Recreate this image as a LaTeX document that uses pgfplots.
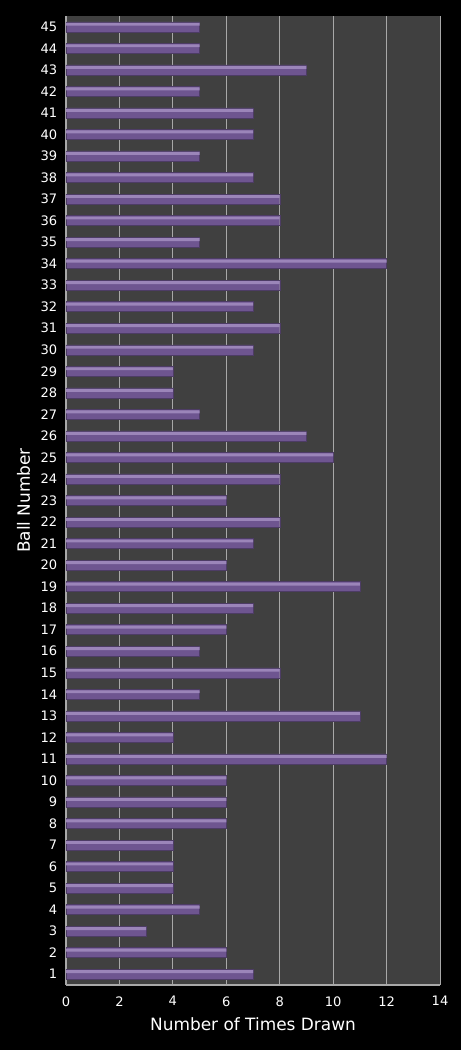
\documentclass[border=0pt]{standalone}
\usepackage{pgfplots}
\pgfplotsset{compat=1.18}
\usepackage{fontspec}
\setmainfont{DejaVu Sans}
\definecolor{plotbg}{HTML}{404040}
\definecolor{barmain}{HTML}{6E5590}
\definecolor{barlight}{HTML}{9B85B9}
\definecolor{gridc}{HTML}{A8A8A8}
\begin{document}
\begin{tikzpicture}
\fill[black] (0,0) rectangle (345.75pt,787.5pt);
\begin{axis}[
  at={(49.5pt,48.75pt)}, anchor=south west,
  scale only axis, width=280.5pt, height=726.75pt,
  xmin=0, xmax=14, xtick={0,2,...,14},
  ymin=0.5, ymax=45.5, ytick={1,...,45},
  axis background/.style={fill=plotbg},
  xmajorgrids, grid style={gridc, line width=0.6pt},
  axis x line*=bottom, axis y line*=left,
  axis line style={gridc, line width=0.8pt, -},
  major tick length=0pt,
  tick label style={white, font=\fontsize{9.8}{11}\selectfont},
  /pgf/number format/assume math mode=true,
  xticklabel style={yshift=-5pt},
  yticklabel style={xshift=-3pt},
  xlabel={Number of Times Drawn}, ylabel={Ball Number},
  label style={white, font=\fontsize{12.7}{15}\selectfont},
  xlabel style={yshift=-2pt},
  ylabel style={yshift=1pt},
  xbar, bar width=7.5pt,
  clip=false,
]
\addplot[fill=barmain, draw=barmain!70!black, line width=0.3pt, bar shift=0pt] coordinates {
(7,1) (6,2) (3,3) (5,4) (4,5) (4,6) (4,7) (6,8) (6,9) (6,10)
(12,11) (4,12) (11,13) (5,14) (8,15) (5,16) (6,17) (7,18) (11,19) (6,20)
(7,21) (8,22) (6,23) (8,24) (10,25) (9,26) (5,27) (4,28) (4,29) (7,30)
(8,31) (7,32) (8,33) (12,34) (5,35) (8,36) (8,37) (7,38) (5,39) (7,40)
(7,41) (5,42) (9,43) (5,44) (5,45)};
\addplot[fill=barlight, draw=none, bar width=2.2pt, bar shift=1.9pt] coordinates {
(7,1) (6,2) (3,3) (5,4) (4,5) (4,6) (4,7) (6,8) (6,9) (6,10)
(12,11) (4,12) (11,13) (5,14) (8,15) (5,16) (6,17) (7,18) (11,19) (6,20)
(7,21) (8,22) (6,23) (8,24) (10,25) (9,26) (5,27) (4,28) (4,29) (7,30)
(8,31) (7,32) (8,33) (12,34) (5,35) (8,36) (8,37) (7,38) (5,39) (7,40)
(7,41) (5,42) (9,43) (5,44) (5,45)};
\end{axis}
\end{tikzpicture}
\end{document}
